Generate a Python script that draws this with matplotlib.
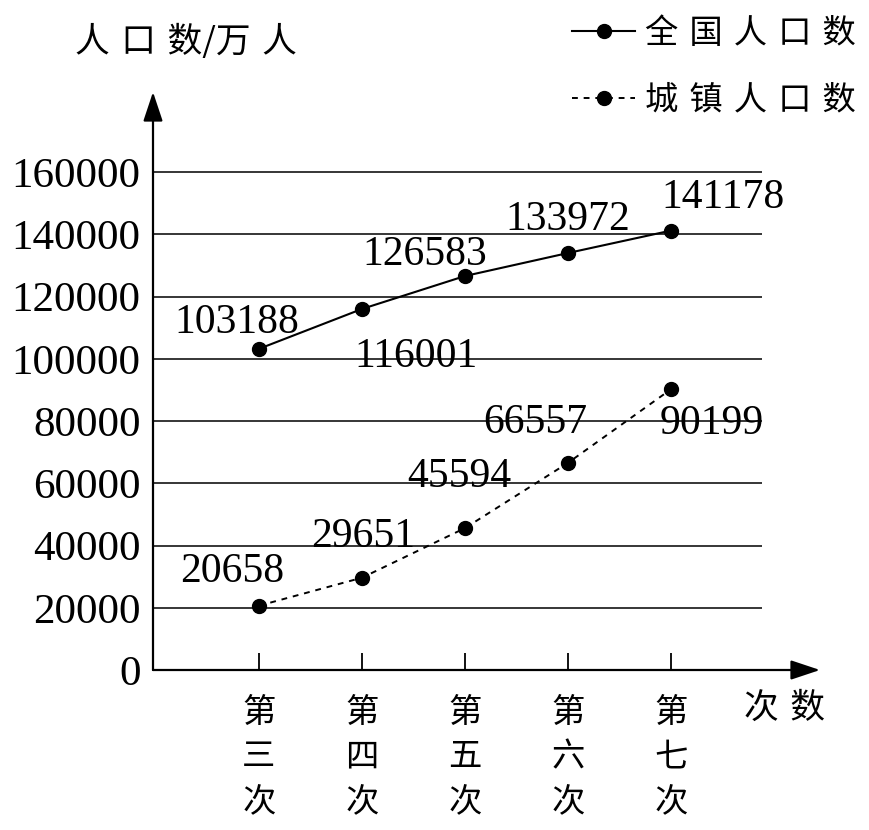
import numpy as np
import matplotlib
matplotlib.use('Agg')
import matplotlib.pyplot as plt

censuses = ['第\n三\n次', '第\n四\n次', '第\n五\n次', '第\n六\n次', '第\n七\n次']
national = [103188, 116001, 126583, 133972, 141178]
urban = [20658, 29651, 45594, 66557, 90199]
y_ticks = [0, 20000, 40000, 60000, 80000, 100000, 120000, 140000, 160000]
series_names = ['全国人口数', '城镇人口数']
y_title = '人口数/万人'
x_title = '次数'

# where each value label sits relative to its point, in pixels (dx, dy)
nat_off = [(-22, 26), (54, -48), (-40, 21), (0, 33), (52, 33)]
urb_off = [(-27, 34), (1, 41), (-6, 51), (-33, 40), (41, -34)]

CJK = ['Noto Sans CJK SC', 'DejaVu Sans']
NUM = ['Liberation Serif', 'DejaVu Serif']
sp = '\u2004'  # a bit of air between the characters, like the printed figure


def spaced(s):
    return sp.join(s).replace(sp + '/' + sp, '/')


fig = plt.figure(figsize=(8.69, 8.30), dpi=100)
ax = fig.add_axes([153/869, (830-670)/830, (820-153)/869, (670-92)/830])

x = np.arange(1, len(national) + 1)
xmin, xmax = 1 - 106/103, 1 + 561/103
ymax = 578 / 3.1125 * 1000
ax.set_xlim(xmin, xmax)
ax.set_ylim(0, ymax)
for s in ax.spines.values():
    s.set_visible(False)

# horizontal guide lines
ax.hlines(y_ticks[1:], xmin, 5.88, color='black', lw=1.1)

# axes with arrow heads
arrow = dict(arrowstyle='-|>,head_length=0.9,head_width=0.3', lw=1.6, color='black',
             shrinkA=0, shrinkB=0, mutation_scale=20)
ax.annotate('', xy=(xmax, 0), xytext=(xmin, 0), arrowprops=arrow, annotation_clip=False)
ax.annotate('', xy=(xmin, ymax), xytext=(xmin, 0), arrowprops=arrow, annotation_clip=False)

l1, = ax.plot(x, national, color='black', lw=1.5, marker='o', ms=10)
l2, = ax.plot(x, urban, color='black', lw=1.4, ls=(0, (3, 3)), marker='o', ms=10)

for xi, v, (dx, dy) in zip(x, national, nat_off):
    ax.annotate(str(v), (xi, v), xytext=(dx, dy), textcoords='offset pixels',
                ha='center', va='center', fontsize=30, family=NUM)
for xi, v, (dx, dy) in zip(x, urban, urb_off):
    ax.annotate(str(v), (xi, v), xytext=(dx, dy), textcoords='offset pixels',
                ha='center', va='center', fontsize=30, family=NUM)

ax.set_xticks(x, censuses)
ax.tick_params(axis='x', direction='in', length=12, width=1.3, pad=18)
for lbl in ax.get_xticklabels():
    lbl.set_fontfamily(CJK)
    lbl.set_fontsize(24)
    lbl.set_linespacing(1.35)
    lbl.set_verticalalignment('top')

ax.set_yticks(y_ticks, [str(t) for t in y_ticks])
ax.tick_params(axis='y', length=0, pad=9)
for lbl in ax.get_yticklabels():
    lbl.set_fontfamily(NUM)
    lbl.set_fontsize(31)

fig.text(186/869, 1 - 42/830, spaced(y_title), ha='center', va='center',
         fontsize=25, family=CJK)
fig.text(785/869, 1 - 708/830, spaced(x_title), ha='center', va='center',
         fontsize=25, family=CJK)

leg = ax.legend([l1, l2], [spaced(n) for n in series_names], loc='upper left',
                bbox_to_anchor=(572/869, 1 - 16/830), bbox_transform=fig.transFigure,
                frameon=False, handlelength=1.9, handletextpad=0.3, labelspacing=0.95,
                borderpad=0, borderaxespad=0, prop={'family': CJK, 'size': 24})

fig.savefig('out.png', dpi=100)
